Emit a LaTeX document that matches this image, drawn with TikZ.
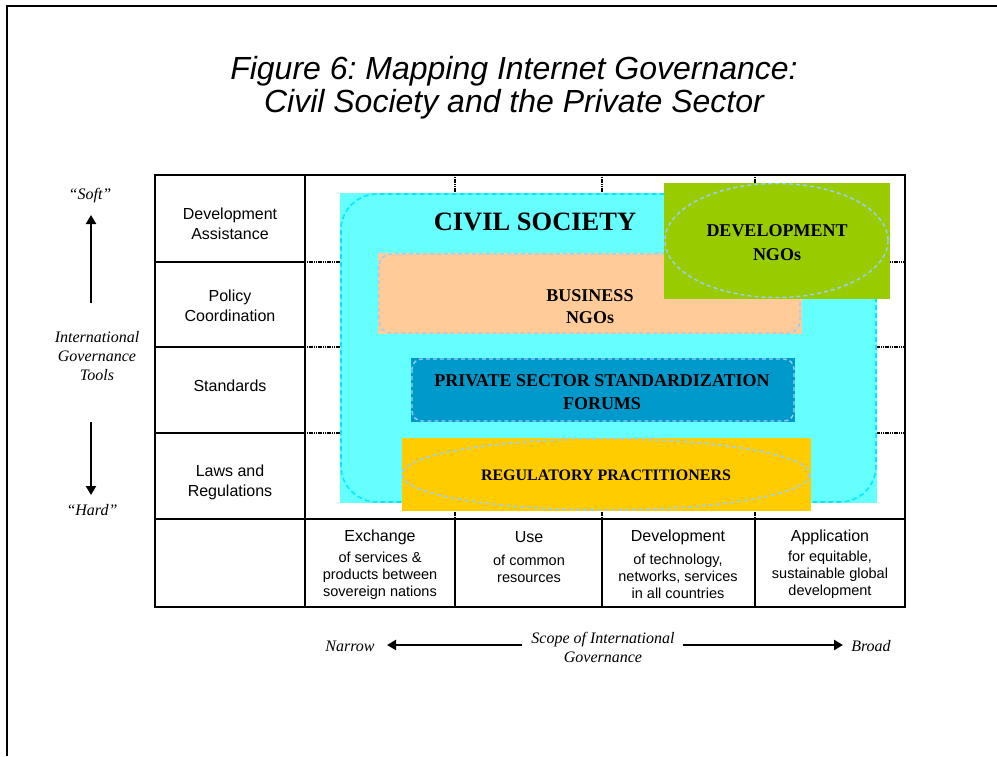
\documentclass[tikz,border=0pt]{standalone}
\usepackage{fontspec}
\setmainfont{Liberation Serif}
\setsansfont{Liberation Sans}
\usetikzlibrary{arrows.meta}
\definecolor{civcyan}{RGB}{102,255,255}
\definecolor{civedge}{RGB}{0,235,255}
\definecolor{peach}{RGB}{255,204,153}
\definecolor{leafgreen}{RGB}{153,204,0}
\definecolor{forumblue}{RGB}{0,153,204}
\definecolor{gold}{RGB}{255,204,0}
\definecolor{paleblue}{RGB}{153,204,255}
\frenchspacing
\tikzset{%
    rowlabel/.style={font=\sffamily\fontsize{16}{20}\selectfont, align=center},
    colhead/.style={font=\sffamily\fontsize{16}{20}\selectfont},
    coltext/.style={font=\sffamily\fontsize{14.5}{17}\selectfont, align=center},
    sidelabel/.style={font=\itshape\fontsize{16}{19}\selectfont, align=center},
    boxlabel/.style={font=\bfseries\fontsize{18}{23}\selectfont, align=center},
    dotline/.style={line width=1.6pt, dash pattern=on 1.2pt off 0.6pt},
    outline/.style={paleblue, line width=1.4pt, dash pattern=on 4pt off 3pt},
    bigarrow/.style={line width=2.8pt, -{Triangle[length=9pt,width=10pt]}}
}
\begin{document}
\begin{tikzpicture}[x=1pt,y=-1pt]
    \useasboundingbox (0,0) rectangle (997,756);
    \draw[line width=2pt] (997,6) -- (7,6) -- (7,756);
    \node[font=\sffamily\itshape\fontsize{32}{33}\selectfont, align=center] (title) at (514,88)
        {Figure 6: Mapping Internet Governance:\\Civil Society and the Private Sector};

    % grid
    \foreach \x in {455,602,755}
    {
    \draw[dotline] (\x,175) -- (\x,519);
    \draw[line width=1.3pt] (\x,519) -- (\x,607);
    }
    \foreach \y in {262,347,433}
    {
    \draw[dotline] (305,\y) -- (905,\y);
    \draw[line width=1.3pt] (155,\y) -- (305,\y);
    }
    \draw[line width=1.3pt] (155,519) -- (905,519);
    \draw[line width=1.3pt] (305,175) -- (305,607);
    \draw[line width=1.5pt] (155,175) rectangle (905,607);

    % actors
    \fill[civcyan] (340,193) rectangle (877,503);
    \draw[civedge, line width=1.6pt, dash pattern=on 5pt off 3pt, rounded corners=36] (341,194) rectangle (876,502);
    \node[font=\bfseries\fontsize{26.5}{30}\selectfont] (civil) at (535,222) {CIVIL SOCIETY};

    \fill[peach] (378,253) rectangle (802,334);
    \draw[outline, rounded corners=12] (379,254) rectangle (800,333);
    \node[boxlabel, font=\bfseries\fontsize{18}{22}\selectfont] (business) at (590,307) {BUSINESS\\NGOs};

    \fill[leafgreen] (664,183) rectangle (890,299);
    \draw[outline] (776.5,240.5) ellipse (111.5 and 57);
    \node[boxlabel, font=\bfseries\fontsize{18}{24}\selectfont] (devngo) at (777,243) {DEVELOPMENT\\NGOs};

    \fill[forumblue] (411,358) rectangle (795,422);
    \draw[outline, rounded corners=10] (412,359) rectangle (794,421);
    \node[boxlabel] (forums) at (602,392) {PRIVATE SECTOR STANDARDIZATION\\FORUMS};

    \fill[gold] (402,438) rectangle (811,511);
    \draw[outline] (606,474.5) ellipse (204 and 35.5);
    \node[boxlabel, font=\bfseries\fontsize{16}{20}\selectfont] (regul) at (606,475) {REGULATORY PRACTITIONERS};

    % table labels
    \node[rowlabel] (devassist) at (230,224) {Development\\Assistance};
    \node[rowlabel] (policy) at (230,306) {Policy\\Coordination};
    \node[rowlabel] (standards) at (230,386) {Standards};
    \node[rowlabel] (laws) at (230,482) {Laws and\\Regulations};

    \node[colhead] (exchange) at (380,537) {Exchange};
    \node[coltext] (exchangetxt) at (380,576) {of services \&\\products between\\sovereign nations};
    \node[colhead] (use) at (529,537) {Use};
    \node[coltext] (usetxt) at (529,569) {of common\\resources};
    \node[colhead] (develop) at (678,537) {Development};
    \node[coltext] (developtxt) at (678,576) {of technology,\\networks, services\\in all countries};
    \node[colhead] (applic) at (830,537) {Application};
    \node[coltext] (applictxt) at (830,575) {for equitable,\\sustainable global\\development};

    % axes
    \node[sidelabel] (soft) at (90,196) {``Soft''};
    \node[sidelabel] (tools) at (97,356) {International\\Governance\\Tools};
    \node[sidelabel] (hard) at (92,510) {``Hard''};
    \coordinate (softtail) at (91,303);
    \coordinate (softtip) at (91,215);
    \coordinate (hardtail) at (91,422);
    \coordinate (hardtip) at (91,495);
    \draw[bigarrow] (softtail) -- (softtip);
    \draw[bigarrow] (hardtail) -- (hardtip);

    \node[sidelabel] (narrow) at (350,646) {Narrow};
    \node[sidelabel] (scope) at (603,647) {Scope of International\\Governance};
    \node[sidelabel] (broad) at (871,646) {Broad};
    \coordinate (narrowtail) at (522,645);
    \coordinate (narrowtip) at (387,645);
    \coordinate (broadtail) at (683,645);
    \coordinate (broadtip) at (843,645);
    \draw[bigarrow] (narrowtail) -- (narrowtip);
    \draw[bigarrow] (broadtail) -- (broadtip);
\end{tikzpicture}
\end{document}
